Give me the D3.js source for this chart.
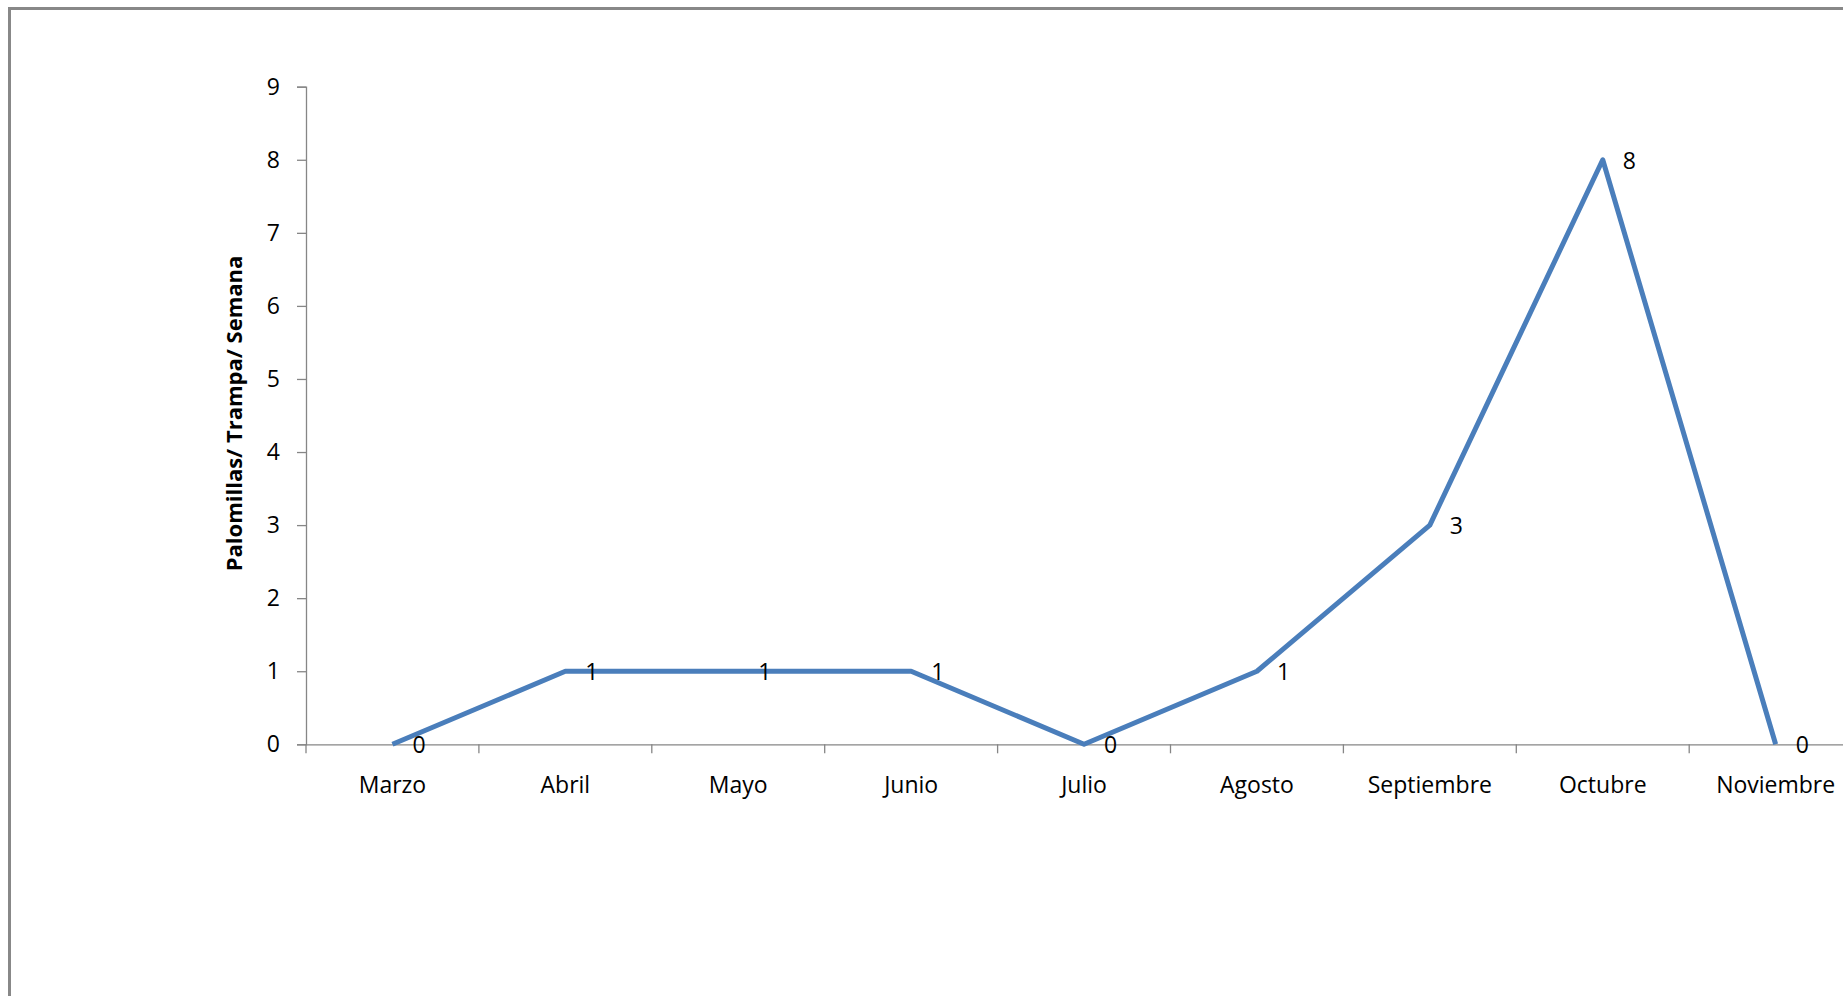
<!DOCTYPE html>
<html>
<head>
<meta charset="utf-8">
<script src="https://cdn.jsdelivr.net/npm/d3@7"></script>
<style>
  html, body { margin: 0; padding: 0; background: #fff; overflow: hidden; }
  svg { display: block; }
  svg text { font-family: "Open Sans", sans-serif; fill: #000; }
</style>
</head>
<body>
<svg id="chart" width="1843" height="996"></svg>
<script>
// Palomillas por trampa por semana, Marzo–Noviembre
const months = ["Marzo", "Abril", "Mayo", "Junio", "Julio", "Agosto", "Septiembre", "Octubre", "Noviembre"];
const catches = [0, 1, 1, 1, 0, 1, 3, 8, 0];
const yTicks = [0, 1, 2, 3, 4, 5, 6, 7, 8, 9];

const svg = d3.select("#chart");

// outer frame (runs off the right and bottom edges like the source)
svg.append("rect").attr("x", 9.5).attr("y", 8.5).attr("width", 2000).attr("height", 2000)
  .attr("fill", "none").attr("stroke", "#888").attr("stroke-width", 3);

const plotL = 306, plotT = 86.7, plotB = 744.3;
const band = 172.9;
const x = d3.scaleBand().domain(months).range([plotL, plotL + band * months.length]);
const y = d3.scaleLinear().domain([0, 9]).range([plotB, plotT]);

// y axis
const gy = svg.append("g").attr("transform", `translate(${plotL},0)`)
  .call(d3.axisLeft(y).tickValues(yTicks).tickFormat(d3.format("d")).tickSize(9).tickPadding(17));
gy.selectAll("path, line").attr("stroke", "#868686").attr("stroke-width", 1.3);
gy.selectAll("text").attr("font-family", null).style("font-size", "23px");

// x axis (ticks between categories)
const gx = svg.append("g").attr("transform", `translate(0,${plotB})`)
  .call(d3.axisBottom(x).tickSize(0).tickPadding(32));
gx.select(".domain").attr("stroke", "#868686").attr("stroke-width", 1.3);
gx.selectAll("text").style("font-size", "23px");
gx.selectAll("line.sep").data(d3.range(months.length + 1)).join("line").attr("class", "sep")
  .attr("x1", i => plotL + i * x.step()).attr("x2", i => plotL + i * x.step())
  .attr("y1", 0).attr("y2", 9).attr("stroke", "#868686").attr("stroke-width", 1.3);
gy.attr("font-family", null); gx.attr("font-family", null);

// axis title
svg.append("text")
  .attr("transform", `translate(233,${(plotT + plotB) / 2 - 2}) rotate(-90)`)
  .attr("text-anchor", "middle").attr("dominant-baseline", "central")
  .style("font-size", "22px").style("font-weight", "700")
  .text("Palomillas/ Trampa/ Semana");

const pts = months.map((m, i) => ({ m, v: catches[i] }));
const cx = d => x(d.m) + x.bandwidth() / 2;

svg.append("path").datum(pts)
  .attr("fill", "none").attr("stroke", "#4a7ebb").attr("stroke-width", 5)
  .attr("stroke-linejoin", "round")
  .attr("d", d3.line().x(cx).y(d => y(d.v)));

// data labels
svg.selectAll("text.val").data(pts).join("text").attr("class", "val")
  .attr("x", d => cx(d) + 20).attr("y", d => y(d.v))
  .attr("dominant-baseline", "central")
  .style("font-size", "23px")
  .text(d => d.v);
</script>
</body>
</html>
